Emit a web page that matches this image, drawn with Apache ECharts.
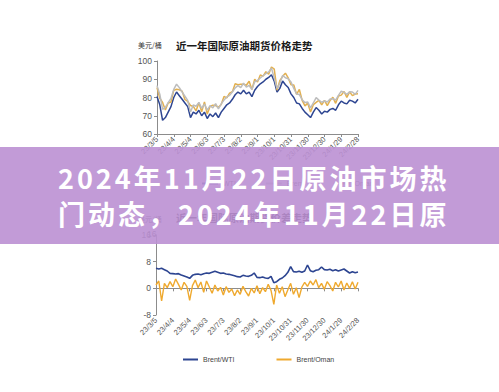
<!DOCTYPE html>
<html>
<head>
<meta charset="utf-8">
<script src="https://cdn.jsdelivr.net/npm/echarts@6/dist/echarts.min.js"></script>
<style>
html,body{margin:0;padding:0;background:#fff;}
#main{width:499px;height:392px;}
</style>
</head>
<body>
<div id="main"></div>
<script>
// ---- data (5-day sampling, 2023-03-05 .. 2024-02-28) ----
var startDate = [2023, 3, 5];
var stepDays = 5;
var pointCount = 73;

var wti = [80.5,76,67.5,69,72,75,80,83,81,79,77,75,69,72,71,73,70,72,68.5,71,69.5,71.5,69,72,74,76,77,79,81.5,83,82,84,82,83,80.5,84,86,87.5,88.5,90,91,92.5,89,83,85,89,87,85.5,82,80,77,76.5,74,72,70.5,69,72,74.5,73,71,72.5,72,73.5,74,73,76,78,77,76.5,78.5,78,77,79];
var brent = [86.5,81.8,73.5,74.6,77.2,79.5,84.4,87.3,85.4,83.0,80.7,78.4,72.0,75.9,75.2,77.3,74.1,76.4,73.1,75.5,74.3,76.6,73.8,76.5,78.6,80.3,81.2,83.0,85.3,86.5,85.4,87.9,85.7,86.6,84.4,88.6,89.3,90.7,91.9,93.1,94.0,96.1,90.7,85.0,87.7,92.1,90.8,90.3,88.5,85.0,81.9,81.6,78.8,77.2,77.5,74.3,77.0,79.9,78.6,77.4,78.1,77.5,79.2,79.3,78.6,81.2,83.5,82.8,81.7,83.1,83.0,81.7,83.9];
var oman = [85.5,79.6,77.3,73.1,77.0,77.5,83.9,84.5,84.2,83.5,78.9,77.8,75.6,75.1,72.7,77.1,72.2,77.6,70.9,75.1,75.8,75.6,74.6,76.2,80.6,79.8,82.4,83.2,87.5,87.0,87.2,87.3,86.7,88.9,84.4,90.0,88.5,92.3,91.7,94.1,92.8,96.7,95.5,84.0,89.2,91.6,93.3,90.7,87.0,86.8,81.7,84.4,78.4,75.4,76.9,72.1,76.0,77.3,78.4,75.9,78.4,75.5,78.4,80.1,76.8,80.8,81.3,83.3,80.1,83.1,81.0,81.9,82.1];
var brentWti = [6.0,5.8,6.0,5.6,5.2,4.5,4.4,4.3,4.4,4.0,3.7,3.4,3.0,3.9,4.2,4.3,4.1,4.4,4.6,4.5,4.8,5.1,4.8,4.5,4.6,4.3,4.2,4.0,3.8,3.5,3.4,3.9,3.7,3.6,3.9,4.6,3.3,3.2,3.4,3.1,3.0,3.6,1.7,2.0,2.7,3.1,3.8,4.8,6.5,5.0,4.9,5.1,4.8,5.2,7.0,5.3,5.0,5.4,5.6,6.4,5.6,5.5,5.7,5.3,5.6,5.2,5.5,5.8,5.2,4.6,5.0,4.7,4.9];
var brentOman = [1.0,2.2,-3.8,1.5,0.2,2.0,0.5,2.8,1.2,-0.5,1.8,0.6,-3.6,0.8,2.5,0.2,1.9,-1.2,2.2,0.4,-1.5,1.0,-0.8,0.3,-2.0,0.5,-1.2,-0.2,-2.2,-0.5,-1.8,0.6,-1.0,-2.3,0.0,-1.4,0.8,-1.6,0.2,-1.0,1.2,-0.6,-4.8,1.0,-1.5,0.5,-2.5,-0.4,1.5,-1.8,0.2,-2.8,0.4,1.8,0.6,2.2,1.0,2.6,0.2,1.5,-0.3,2.0,0.8,-0.8,1.8,0.4,2.2,-0.5,1.6,0.0,2.0,-0.2,1.8];

var priceTitle = '近一年国际原油期货价格走势';
var spreadTitle = '近一年国际原油期货价差走势';
var unitLabel = '美元/桶';
var bannerLine1 = '2024年11月22日原油市场热';
var bannerLine2 = '门动态，2024年11月22日原';

// category labels (dates)
var categories = [];
(function(){
  var t0 = Date.UTC(startDate[0], startDate[1]-1, startDate[2]);
  for (var i = 0; i < pointCount; i++) {
    var d = new Date(t0 + i*stepDays*86400000);
    categories.push(String(d.getUTCFullYear()).slice(2) + '/' + (d.getUTCMonth()+1) + '/' + d.getUTCDate());
  }
})();

var cBlue = '#2d4591', cGray = '#bdbdbd', cGold = '#e2b050', cOrange = '#efa92e';
var axisColor = '#8c8c8c', labelColor = '#555';
var smallFont = '"Liberation Sans", "Noto Sans CJK SC", sans-serif';
var cjkFont = '"Noto Sans CJK SC", sans-serif';

function xAxisCfg(gi){
  return {
    type:'category', gridIndex:gi, data:categories, boundaryGap:false,
    axisLine:{lineStyle:{color:axisColor, width:1}},
    axisTick:{interval:5, length:3, lineStyle:{color:axisColor}},
    axisLabel:{interval:5, rotate:45, fontSize:7.5, color:labelColor, margin:4, fontFamily:smallFont},
    splitLine:{show:false}
  };
}
function yAxisCfg(gi, min, max, interval){
  return {
    type:'value', gridIndex:gi, min:min, max:max, interval:interval,
    axisLine:{show:true, lineStyle:{color:axisColor, width:1}},
    axisTick:{show:true, length:3, lineStyle:{color:axisColor}},
    axisLabel:{fontSize:8.5, color:labelColor, margin:5, fontFamily:smallFont},
    splitLine:{show:false}
  };
}
function lineSeries(name, data, color, xi, yi, w){
  return {name:name, type:'line', data:data, xAxisIndex:xi, yAxisIndex:yi,
    showSymbol:false, symbol:'none', lineStyle:{color:color, width:w}, itemStyle:{color:color}};
}

var chart = echarts.init(document.getElementById('main'), null, {renderer:'svg'});
chart.setOption({
  animation:false,
  backgroundColor:'#fff',
  grid:[
    {left:157, top:61, width:201, height:73},
    {left:156, top:235, width:202, height:80}
  ],
  xAxis:[xAxisCfg(0), xAxisCfg(1)],
  yAxis:[yAxisCfg(0,60,100,10), yAxisCfg(1,-8,16,8)],
  legend:[
    {data:['WTI','Brent','Oman'], left:197, top:175, icon:'rect', itemWidth:16, itemHeight:2, itemGap:30,
     textStyle:{fontSize:7, color:'#444', fontFamily:smallFont}},
    {data:['Brent/WTI','Brent/Oman'], left:178, top:351, icon:'rect', itemWidth:15, itemHeight:2, itemGap:42,
     textStyle:{fontSize:7, color:'#444', fontFamily:smallFont}}
  ],
  series:[
    lineSeries('WTI', wti, cBlue, 0, 0, 1.5),
    lineSeries('Oman', oman, cGold, 0, 0, 1.5),
    lineSeries('Brent', brent, cGray, 0, 0, 1.5),
    lineSeries('Brent/Oman', brentOman, cOrange, 1, 1, 1.4),
    lineSeries('Brent/WTI', brentWti, cBlue, 1, 1, 1.6)
  ],
  graphic:[
    {type:'text', left:138, top:41, z:10, style:{text:unitLabel, font:'7px '+cjkFont, fill:'#333'}},
    {type:'text', left:176, top:40, z:10, style:{text:priceTitle, font:'bold 10.5px '+cjkFont, fill:'#1a1a1a'}},
    {type:'text', left:138, top:215, z:10, style:{text:unitLabel, font:'7px '+cjkFont, fill:'#333'}},
    {type:'text', left:176, top:212, z:10, style:{text:spreadTitle, font:'bold 10.5px '+cjkFont, fill:'#1a1a1a'}},
    {type:'text', left:147, top:230, z:10, style:{text:'16', font:'8.5px '+smallFont, fill:labelColor}},
    {type:'rect', left:0, top:147, z:100, shape:{width:499, height:97}, style:{fill:'rgba(187,144,211,0.9)'}},
    {type:'text', x:58, y:177, z:101, style:{text:bannerLine1, font:'bold 27px '+cjkFont, fill:'#fff', textVerticalAlign:'middle', textAlign:'left'}},
    {type:'text', x:58, y:213, z:101, style:{text:bannerLine2, font:'bold 27px '+cjkFont, fill:'#fff', textVerticalAlign:'middle', textAlign:'left'}}
  ]
});

function applySpacing(){
  var nodes = document.querySelectorAll('#main text');
  for (var i = 0; i < nodes.length; i++) {
    var t = nodes[i].textContent;
    if (t === bannerLine1 || t === bannerLine2) {
      nodes[i].style.letterSpacing = '3px';
      nodes[i].setAttribute('letter-spacing', '3px');
    }
  }
}
applySpacing();
chart.on('finished', applySpacing);
setTimeout(applySpacing, 0);
setTimeout(applySpacing, 100);
</script>
</body>
</html>
